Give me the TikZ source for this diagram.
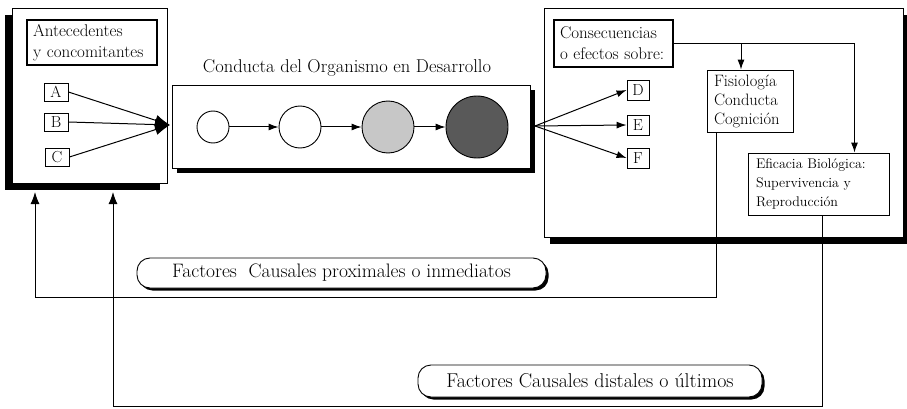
\documentclass[tikz,border=0pt]{standalone}
\usetikzlibrary{arrows.meta,positioning,shadows,calc}

\tikzset{
	panel/.style={draw, line width=0.9pt, fill=white, inner sep=0pt},
	blackshade/.style 2 args={drop shadow={shadow xshift=#1, shadow yshift=#2, fill=black, opacity=1}},
	headbox/.style={draw, line width=1.6pt, align=left, inner xsep=6pt, inner ysep=0pt,
		font=\fontsize{17}{21}\selectfont},
	letter/.style={draw, line width=0.9pt, minimum width=24pt, minimum height=18pt, inner sep=0pt,
		font=\fontsize{16}{18}\selectfont},
	stage/.style={circle, draw, line width=0.9pt, inner sep=0pt},
	effect/.style={draw, line width=0.9pt, fill=white, align=left, inner xsep=8pt, inner ysep=0pt},
	factor/.style={draw, rounded corners=13pt, fill=white, line width=0.9pt, inner sep=0pt,
		blackshade={2.5pt}{-2.5pt}},
	link/.style={line width=1pt},
	>={Latex[length=10pt,width=7pt]}
}

\begin{document}
\begin{tikzpicture}[x=1pt, y=-1pt]
	\useasboundingbox (0,0) rectangle (907,409);

	% panels
	\node[panel, minimum width=155pt, minimum height=175pt, blackshade={-7pt}{-7pt}] (left) at (89.5,95.5) {};
	\node[panel, minimum width=358pt, minimum height=83pt, blackshade={5pt}{-5pt}] (mid) at (351,126.5) {};
	\node[panel, minimum width=359pt, minimum height=229pt, blackshade={6pt}{-7pt}] (right) at (723.5,122.5) {};

	% antecedents
	\node[headbox, minimum width=130pt, minimum height=45pt, text width=118pt] (ante) at (92,42.5)
		{Antecedentes\\y concomitantes};
	\node[letter] (A) at (56,92) {A};
	\node[letter] (B) at (56,122) {B};
	\node[letter] (C) at (57,157) {C};
	\coordinate (conv) at (170,125);
	\foreach \l in {A,B,C}
		\draw[link, -{Latex[length=15pt,width=11pt]}] (\l.east) -- (conv);

	% development
	\node[font=\fontsize{18.5}{22}\selectfont] (title) at (347,68) {Conducta del Organismo en Desarrollo};
	\node[stage, minimum size=32pt] (s1) at (213,127) {};
	\node[stage, minimum size=42pt] (s2) at (300,127) {};
	\node[stage, minimum size=52pt, fill=black!22] (s3) at (388,127) {};
	\node[stage, minimum size=62pt, fill=black!65] (s4) at (477,127) {};
	\draw[link,->] (s1) -- (s2);
	\draw[link,->] (s2) -- (s3);
	\draw[link,->] (s3) -- (s4);

	% consequences
	\node[headbox, minimum width=119pt, minimum height=47pt, text width=107pt] (cons) at (613.5,43.5)
		{Consecuencias\\o efectos sobre:};
	\node[letter, minimum width=22pt, minimum height=20pt] (D) at (638,90) {D};
	\node[letter, minimum width=22pt, minimum height=20pt] (E) at (638,125) {E};
	\node[letter, minimum width=22pt, minimum height=20pt] (F) at (638,158) {F};
	\coordinate (split) at (535,126);
	\foreach \l in {D,E,F}
		\draw[link,->] (split) -- (\l.west);

	\node[effect, minimum width=86pt, minimum height=62pt, text width=72pt,
		inner xsep=6pt, font=\fontsize{16.5}{19}\selectfont] (fisio) at (750,101)
		{Fisiología\\Conducta\\Cognición};
	\node[effect, minimum width=141pt, minimum height=62pt, text width=125pt,
		font=\fontsize{14}{19}\selectfont] (efi) at (818.5,184)
		{Eficacia Biológica:\\Supervivencia y\\Reproducción};
	\draw[link,->] (cons.east) -| ([xshift=36pt]efi.north);
	\draw[link,->] ([xshift=-9pt]fisio.north |- cons.east) -- ([xshift=-9pt]fisio.north);

	% feedback loops
	\coordinate (proxin) at (35,192);
	\coordinate (distin) at (113,192);
	\draw[link,-{Latex[length=12pt,width=9pt]}] ([xshift=10pt]fisio.south west) -- ++(0,165) -| (proxin);
	\draw[link,-{Latex[length=12pt,width=9pt]}] ([xshift=4pt]efi.south) -- ++(0,191) -| (distin);

	\node[factor, minimum width=409pt, minimum height=30pt, font=\fontsize{19.5}{22}\selectfont] (prox) at (341.5,273)
		{Factores\hspace{0.6em}Causales proximales o inmediatos};
	\node[factor, minimum width=344pt, minimum height=32pt, font=\fontsize{20}{22}\selectfont] (dist) at (590,381)
		{Factores Causales distales o últimos};
\end{tikzpicture}
\end{document}
